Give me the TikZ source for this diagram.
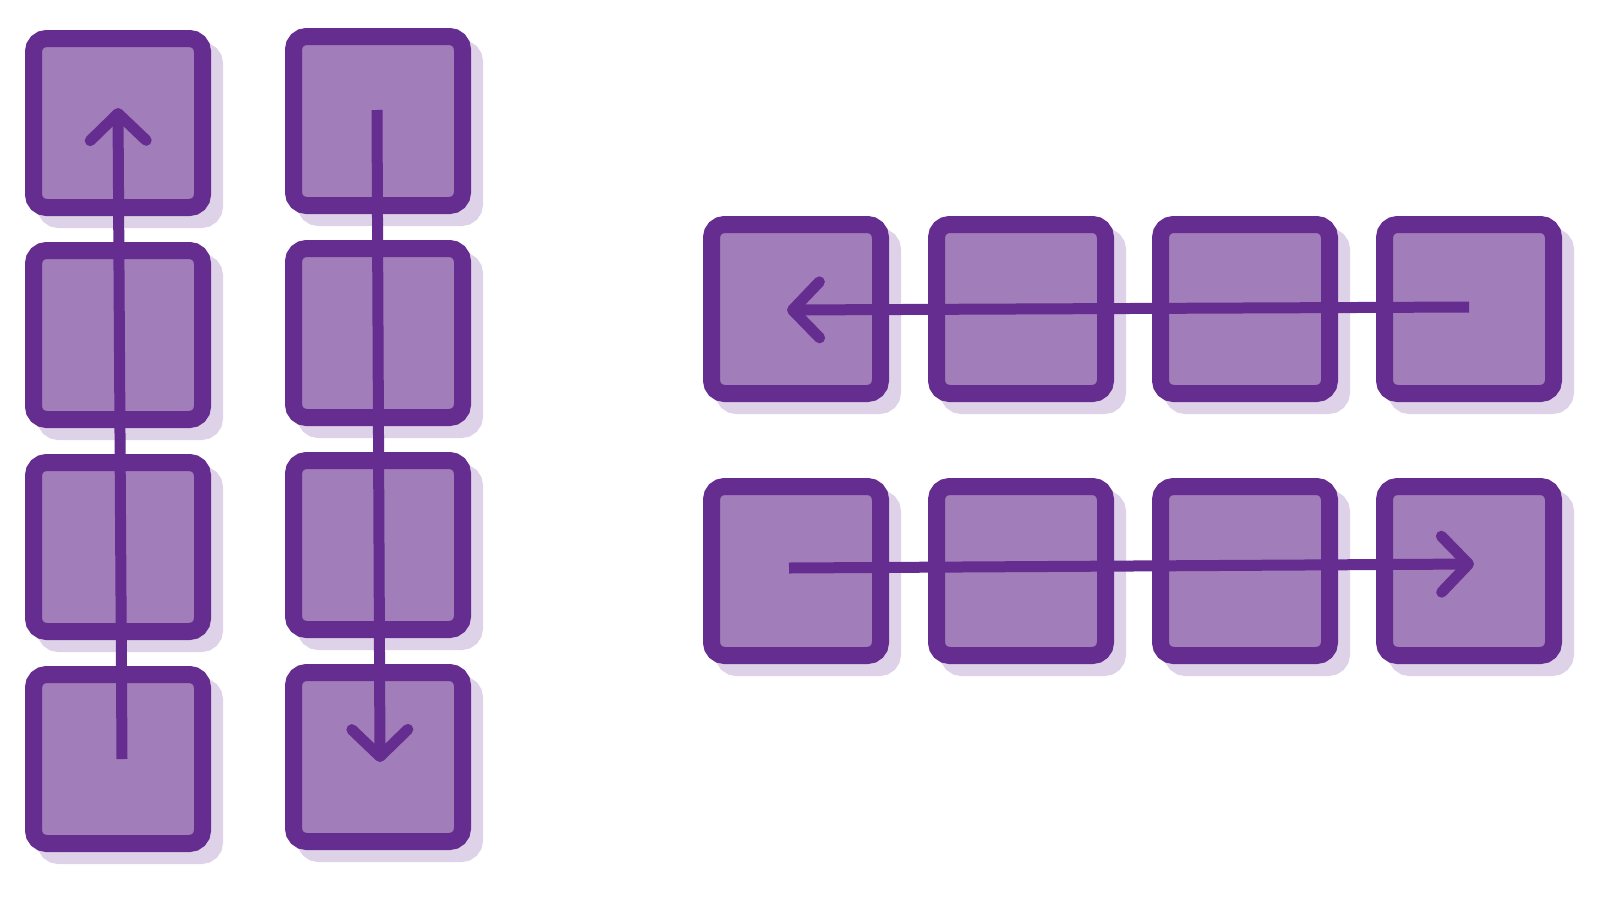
\documentclass[tikz,border=0pt]{standalone}
\usetikzlibrary{arrows.meta,shadows}
\definecolor{boxborder}{RGB}{102,45,145}
\definecolor{boxfill}{RGB}{161,125,185}
\definecolor{boxshadow}{RGB}{221,210,232}
\begin{document}
\begin{tikzpicture}[x=0.5pt,y=-0.5pt,
  tile/.style={rectangle, minimum size=84.5pt, inner sep=0pt, outer sep=0pt,
    draw=boxborder, fill=boxfill, line width=8.5pt, rounded corners=6.5pt,
    drop shadow={shadow xshift=6pt, shadow yshift=-6pt, opacity=1,
      fill=boxshadow, draw=boxshadow, line width=8.5pt}},
  flow/.style={draw=boxborder, line width=5.5pt, line cap=butt,
    -{Straight Barb[length=13.5pt,width=28pt,round]}}]
\useasboundingbox (0,0) rectangle (1599,900);
% left column
\node[tile] (c1a) at (118,123) {};
\node[tile] (c1b) at (118,335) {};
\node[tile] (c1c) at (118,547) {};
\node[tile] (c1d) at (118,759) {};
% second column
\node[tile] (c2a) at (378,121) {};
\node[tile] (c2b) at (378,333) {};
\node[tile] (c2c) at (378,545) {};
\node[tile] (c2d) at (378,757) {};
% top row
\node[tile] (r1a) at (796,309) {};
\node[tile] (r1b) at (1021,309) {};
\node[tile] (r1c) at (1245,309) {};
\node[tile] (r1d) at (1469,309) {};
% bottom row
\node[tile] (r2a) at (796,571) {};
\node[tile] (r2b) at (1021,571) {};
\node[tile] (r2c) at (1245,571) {};
\node[tile] (r2d) at (1469,571) {};
% connectors
\draw[flow] ([shift={(4,0)}]c1d.center) -- ([shift={(0,-15)}]c1a.center);
\draw[flow] ([shift={(-1,-11)}]c2a.center) -- ([shift={(2,5)}]c2d.center);
\draw[flow] ([shift={(0,-2)}]r1d.center) -- ([shift={(-9,1)}]r1a.center);
\draw[flow] ([shift={(-7,-3)}]r2a.center) -- ([shift={(5,-7)}]r2d.center);
\end{tikzpicture}
\end{document}
